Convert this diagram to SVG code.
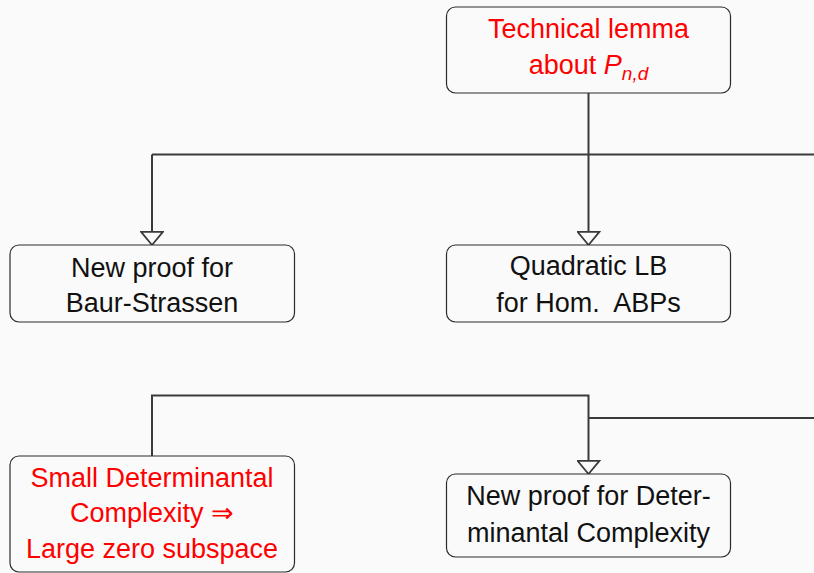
<svg xmlns="http://www.w3.org/2000/svg" width="814" height="573" viewBox="0 0 814 573">
<style>
.box{fill:#fafafa;stroke:#2a2a2a;stroke-width:1.2}
.t{font-family:"Liberation Sans",Arial,sans-serif;font-size:27px;text-anchor:middle}
.red{fill:#ff0000}
.blk{fill:#111}
.c{fill:none;stroke:#3a3a3a;stroke-width:2}
</style>
<defs>
<marker id="tri" markerUnits="userSpaceOnUse" markerWidth="16" markerHeight="24" viewBox="-1 -11 14 22" refX="12" refY="0" orient="auto">
<path d="M0,-10 L12,0 L0,10 Z" fill="#fafafa" stroke="#3a3a3a" stroke-width="1.6"/>
</marker>
</defs>
<rect width="814" height="573" fill="#fafafa"/>
<g id="connectors">
<path class="c" d="M588.5,93 V245" marker-end="url(#tri)"/>
<path class="c" d="M152,154.5 H814"/>
<path class="c" d="M152,154.5 V245" marker-end="url(#tri)"/>
<path class="c" d="M152,456 V395.5 H588.5 V474" marker-end="url(#tri)"/>
<path class="c" d="M588.5,418 H814"/>
</g>
<g id="lemma">
<rect class="box" x="446.5" y="7" width="284" height="86" rx="9"/>
<text class="t red" x="588.5" y="38">Technical lemma</text>
<text class="t red" x="588.5" y="74">about <tspan font-style="italic">P</tspan><tspan font-style="italic" font-size="19" dy="6">n,d</tspan></text>
</g>
<g id="baur">
<rect class="box" x="10" y="245" width="284.5" height="77" rx="9"/>
<text class="t blk" x="152" y="277">New proof for</text>
<text class="t blk" x="152" y="312">Baur-Strassen</text>
</g>
<g id="quadratic">
<rect class="box" x="446.5" y="245" width="284" height="77" rx="9"/>
<text class="t blk" x="588.5" y="275">Quadratic LB</text>
<text class="t blk" x="588.5" y="312">for Hom.&#160; ABPs</text>
</g>
<g id="small">
<rect class="box" x="10" y="456" width="284.5" height="116" rx="9"/>
<text class="t red" x="152" y="487">Small Determinantal</text>
<text class="t red" x="152" y="522">Complexity ⇒</text>
<text class="t red" x="152" y="558">Large zero subspace</text>
</g>
<g id="newdet">
<rect class="box" x="446.5" y="474" width="284" height="83" rx="9"/>
<text class="t blk" x="588.5" y="505">New proof for Deter-</text>
<text class="t blk" x="588.5" y="542">minantal Complexity</text>
</g>
</svg>
